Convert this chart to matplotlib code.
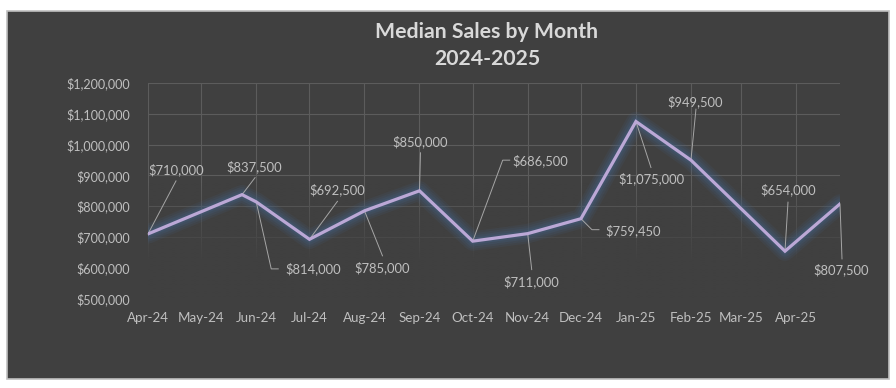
import matplotlib
matplotlib.use("Agg")
import matplotlib.pyplot as plt
import matplotlib.dates as mdates
import matplotlib.transforms as mtransforms
from matplotlib.lines import Line2D
from matplotlib.patches import Rectangle
import numpy as np
import pandas as pd

plt.rcParams["font.family"] = ["Lato", "DejaVu Sans"]

sale_dates = pd.to_datetime(["2024-04-01", "2024-05-24", "2024-06-01", "2024-07-01",
                             "2024-08-01", "2024-09-01", "2024-10-01", "2024-11-01",
                             "2024-12-01", "2025-01-01", "2025-02-01", "2025-03-26",
                             "2025-04-26"])
median_sales = [710000, 837500, 814000, 692500, 785000, 850000, 686500,
                711000, 759450, 1075000, 949500, 654000, 807500]

# where each data label sits, pixels from its point (x right, y down)
label_offsets = [(28, -64), (12, -28), (57, 67), (28, -50), (18, 57), (1, -49), (68, -80),
                 (4, 48), (52, 12), (16, 57), (4, -58), (3, -61), (1, 66)]
# leader line vertices, same pixel offsets
leader_paths = [[(0, 0), (28, -53)],
                [(0, 0), (13, -17)],
                [(0, 0), (15, 67), (22, 67)],
                [(0, 0), (28, -38)],
                [(0, 0), (18, 45)],
                [(0, 0), (1, -38)],
                [(0, 0), (30, -81), (37, -81)],
                [(0, 0), (4, 36)],
                [(0, 0), (11, 11), (18, 11)],
                [(0, 0), (15, 46)],
                [(0, 0), (5, -51)],
                [(0, 0), (3, -49)],
                [(0, 0), (2, 55)]]

bg = "#404040"
fig = plt.figure(figsize=(8.96, 3.88), dpi=100, facecolor="white")
fig.patches.append(Rectangle((7 / 896, 1 - 379 / 388), 882 / 896, 368 / 388,
                             transform=fig.transFigure, facecolor=bg,
                             edgecolor="#c0c0c0", linewidth=1.2, zorder=-5))

ax = fig.add_axes([148 / 896, 1 - 298.6 / 388, 692 / 896, 215.6 / 388])
ax.set_zorder(2)
ax.set_facecolor("none")
for s in ax.spines.values():
    s.set_visible(False)

x = mdates.date2num(sale_dates)
x_min = mdates.date2num(pd.Timestamp("2024-04-01"))
x_max = mdates.date2num(pd.Timestamp("2025-04-26"))

ax.xaxis.set_major_locator(mdates.MonthLocator())
ax.xaxis.set_major_formatter(mdates.DateFormatter("%b-%y"))
ax.set_yticks(np.arange(500000, 1200001, 100000))
ax.yaxis.set_major_formatter(plt.FuncFormatter(lambda v, p: f"${v:,.0f}"))
ax.grid(True, color="#5c5c5c", linewidth=0.8, zorder=0)
ax.tick_params(length=0, colors="#bfbfbf")
ax.tick_params(axis="y", pad=13, labelsize=9.1)
ax.tick_params(axis="x", pad=10, labelsize=9.6)
ax.set_axisbelow(True)

# fade the gridlines out towards the bottom
fade = np.zeros((200, 1, 4))
fade[..., :3] = matplotlib.colors.to_rgb(bg)
yy = np.linspace(0, 1, 200)
fade[:, 0, 3] = np.clip((0.54 - yy) / (0.54 - 0.17), 0, 1)
ax.imshow(fade, extent=[0, 1, 0, 1], transform=ax.transAxes, origin="lower",
          aspect="auto", zorder=1, interpolation="bilinear")

ax.set_xlim(x_min, x_max)
ax.set_ylim(500000, 1200000)

# glow
for w, a in [(14, 0.12), (11, 0.14), (8, 0.18), (5, 0.25)]:
    ax.plot(x, median_sales, color="#44648c", linewidth=w, alpha=a,
            solid_joinstyle="round", solid_capstyle="round", zorder=2)
ax.plot(x, median_sales, color="#bba8d6", linewidth=2.3, solid_joinstyle="miter", zorder=4)

ident = mtransforms.IdentityTransform()
for xi, v, (dx, dy), path in zip(x, median_sales, label_offsets, leader_paths):
    px, py = ax.transData.transform((xi, v))
    lx = [px + ox for ox, oy in path]
    ly = [py - oy for ox, oy in path]
    ax.add_line(Line2D(lx, ly, transform=ident, color="#a6a6a6", linewidth=0.7,
                       clip_on=False, zorder=3))
    ax.annotate(f"${v:,.0f}", xy=(xi, v), xytext=(dx, -dy), textcoords="offset pixels",
                ha="center", va="center", fontsize=9.4, color="#bfbfbf", zorder=5)

fig.text(487 / 896, 1 - 38 / 388, "Median Sales by Month", ha="center", va="baseline",
         fontsize=15.3, fontweight="bold", color="#d9d9d9")
fig.text(487 / 896, 1 - 65 / 388, "2024-2025", ha="center", va="baseline",
         fontsize=15.3, fontweight="bold", color="#d9d9d9")

fig.savefig("out.png", dpi=100, facecolor="white")
